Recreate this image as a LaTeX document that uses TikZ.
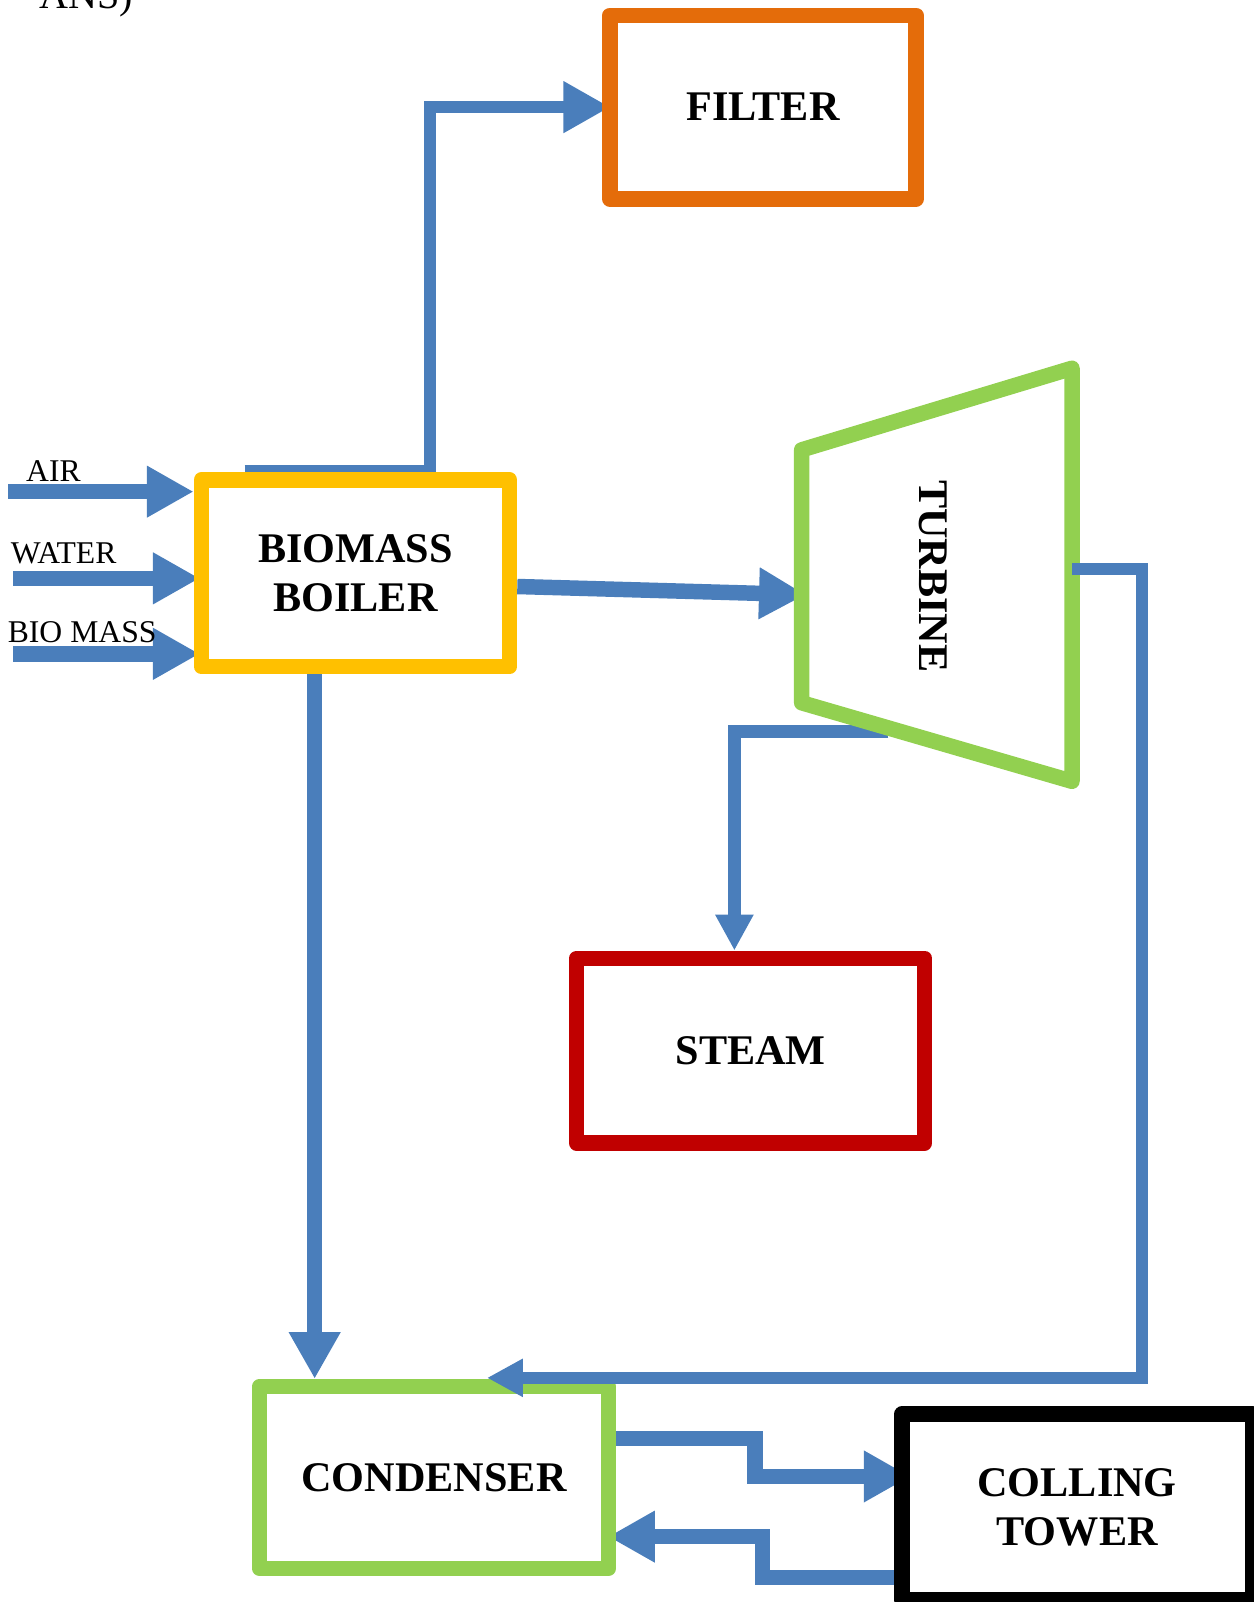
\documentclass[tikz,border=0pt]{standalone}
\usepackage{fontspec}
\setmainfont{Liberation Serif}
\usetikzlibrary{positioning,arrows.meta,calc}
\pgfdeclarelayer{bg}
\pgfsetlayers{bg,main}
\definecolor{flowblue}{RGB}{74,126,187}
\definecolor{filterorange}{RGB}{228,108,10}
\definecolor{boileryellow}{RGB}{255,192,0}
\definecolor{unitgreen}{RGB}{146,208,80}
\definecolor{steamred}{RGB}{192,0,0}
\tikzset{
	>={Triangle[length=13.3pt,width=13.8pt]}
}

\begin{document}
\begin{tikzpicture}[
x = 0.0102cm, y = -0.0102cm,
every node/.style = {
	font = \fontsize{12}{14}\selectfont\bfseries
},
unit/.style = {
	draw,
	line width = 4.4pt,
	line join = round,
	align = center,
	inner sep = 0pt
},
in label/.style = {
	font = \fontsize{9}{10}\selectfont,
	anchor = base west,
	inner sep = 0pt
},
flow/.style = {
	draw = flowblue,
	line width = 3.5pt
},
wide flow/.style = {
	flow,
	line width = 4.4pt
},
small head/.style = {
	-{Triangle[length=10.2pt,width=10.2pt]}
}
]

\node [in label, font = \fontsize{11.4}{12}\selectfont] (caption) at (38,8) {ANS)};

\node [unit, draw = filterorange, minimum width = 3.06cm, minimum height = 1.836cm] (filter) at (748,105) {FILTER};
\node [unit, draw = boileryellow, minimum width = 3.08cm, minimum height = 1.867cm] (boiler) at (348.5,562) {BIOMASS\\BOILER};
\node [unit, draw = steamred, minimum width = 3.478cm, minimum height = 1.846cm] (steam) at (736,1030) {STEAM};
\node [unit, draw = unitgreen, minimum width = 3.488cm, minimum height = 1.816cm] (cond) at (425.5,1448.5) {CONDENSER};
\node [unit, draw = black, minimum width = 3.5cm, minimum height = 1.857cm] (tower) at (1056,1477.5) {COLLING\\TOWER};

% turbine
\draw [unitgreen, line width = 4.4pt, line join = round]
	(786,441) coordinate (ttl) -- (1051,361) coordinate (ttr)
	-- (1051,766) coordinate (tbr) -- (786,689) coordinate (tbl) -- cycle;
\node [rotate = -90, inner sep = 0pt] (turbine) at (915,565) {TURBINE};
\coordinate (tin) at (790,583);
\coordinate (tright) at (1051,558);
\coordinate (tbot) at (871,717);

% inputs
\coordinate (air) at (8,482);
\coordinate (water) at (13,567);
\coordinate (biomass) at (13,641);
\node [in label] (airlabel) at (25,472) {AIR};
\node [in label] (waterlabel) at (10,552) {WATER};
\node [in label] (biomasslabel) at (7,630) {BIO MASS};

\begin{pgfonlayer}{bg}
\draw [wide flow, ->] (air) -- (air -| boiler.west);
\draw [wide flow, ->] (water) -- ($(water -| boiler.west)+(6,0)$);
\draw [wide flow, ->] (biomass) -- ($(biomass -| boiler.west)+(6,0)$);

\draw [flow, ->] ($(boiler.north west)+(50,-1)$) -| ($(filter.west)+(-169,0)$) -- ($(filter.west)+(8,0)$);
\draw [wide flow, ->] ($(boiler.east)+(0,13)$) -- (tin);
\draw [wide flow, ->] ($(boiler.south)+(-40,0)$) coordinate (bc) -- (bc |- cond.north);

\draw [flow, small head] (tbot) -| ($(steam.north)+(-16,0)$);
\end{pgfonlayer}
\draw [flow, small head] (tright) -| ($(cond.north)+(694,-1)$) -- ($(cond.north)+(52,-1)$);

\begin{pgfonlayer}{bg}
\draw [wide flow, ->] ($(cond.east)+(0,-38)$) -- ++(136,0) |- ($(tower.west)+(16,-30)$);
\draw [wide flow, ->] ($(tower.west)+(10,69)$) -- ++(-139,0) |- ($(cond.east)+(-8,58)$);
\end{pgfonlayer}

\pgfresetboundingbox
\useasboundingbox (0,0) rectangle (1229.4,1570.6);
\end{tikzpicture}
\end{document}
